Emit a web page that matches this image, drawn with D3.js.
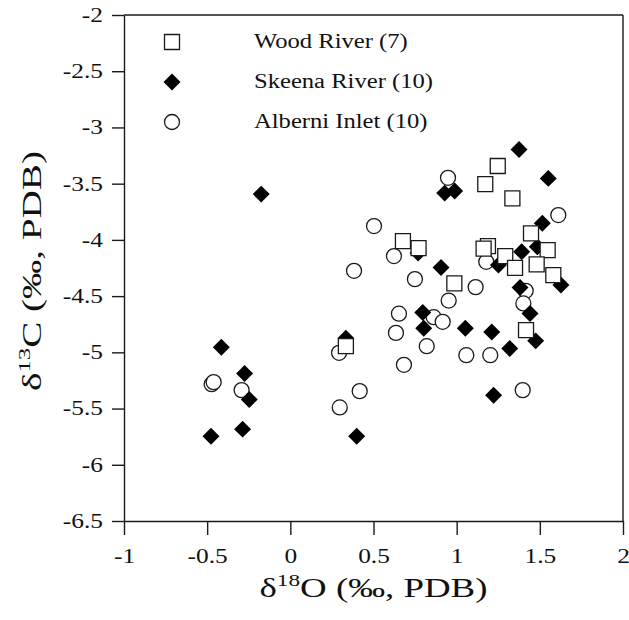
<!DOCTYPE html>
<html>
<head>
<meta charset="utf-8">
<script src="https://cdn.jsdelivr.net/npm/d3@7"></script>
<style>
body { margin: 0; background: #fff; }
svg text { font-family: "Liberation Serif", "Times New Roman", serif; fill: #111; }
</style>
</head>
<body>
<svg id="chart" width="629" height="620"></svg>
<script>
// values (d18O, d13C)
let woodX = [0.334, 0.677, 0.771, 0.986, 1.247, 1.172, 1.335, 1.447, 1.188, 1.162, 1.547, 1.292, 1.351, 1.481, 1.581, 1.417]
let woodY = [-4.945, -4.011, -4.073, -4.387, -3.343, -3.504, -3.631, -3.942, -4.055, -4.077, -4.091, -4.144, -4.248, -4.218, -4.313, -4.802]

let skeenaX = [-0.175, -0.415, -0.275, -0.247, -0.287, -0.477, 0.399, 0.334, 0.768, 0.906, 0.928, 0.988, 0.796, 0.802,
    1.375, 1.551, 1.515, 1.391, 1.485, 1.251, 1.381, 1.627, 1.441, 1.475, 1.052, 1.211, 1.319, 1.222]
let skeenaY = [-3.593, -4.954, -5.188, -5.419, -5.683, -5.746, -5.746, -4.874, -4.117, -4.245, -3.584, -3.566, -4.645, -4.785,
    -3.197, -3.453, -3.853, -4.106, -4.061, -4.224, -4.423, -4.402, -4.654, -4.898, -4.785, -4.820, -4.965, -5.381]

let albX = [0.948, 1.611, 0.503, 0.623, 0.383, 0.749, 1.178, 1.114, 0.952, 0.653, 0.862, 0.916, 1.415, 1.401, 0.635, 0.820,
    0.293, 0.683, 1.058, 1.202, 1.397, 0.417, 0.297, -0.473, -0.461, -0.293]
let albY = [-3.448, -3.779, -3.877, -4.144, -4.275, -4.349, -4.195, -4.420, -4.540, -4.656, -4.687, -4.729, -4.453, -4.565, -4.827, -4.945,
    -5.004, -5.111, -5.025, -5.025, -5.336, -5.345, -5.490, -5.283, -5.265, -5.336]

let xTicks = [-1, -0.5, 0, 0.5, 1, 1.5, 2]
let xTickLabels = ["-1", "-0.5", "0", "0.5", "1", "1.5", "2"]
let yTicks = [-2, -2.5, -3, -3.5, -4, -4.5, -5, -5.5, -6, -6.5]
let yTickLabels = ["-2", "-2.5", "-3", "-3.5", "-4", "-4.5", "-5", "-5.5", "-6", "-6.5"]

let seriesNames = ["Wood River (7)", "Skeena River (10)", "Alberni Inlet (10)"]

let x0 = 124, x1 = 623, y0 = 15, y1 = 521
let ink = "#1a1a1a"
let svg = d3.select("#chart")

// the scanned type is wider than Liberation Serif, so stretch it a little
function widen(sel, k) {
    sel.each(function() {
        let w = this.getComputedTextLength()
        d3.select(this).attr("textLength", w * k).attr("lengthAdjust", "spacingAndGlyphs")
    })
}

let x = d3.scaleLinear().domain([-1, 2]).range([x0, x1])
let y = d3.scaleLinear().domain([-6.5, -2]).range([y1, y0])

// X axis
let gx = svg.append("g")
    .attr("transform", "translate(0," + y1 + ")")
    .call(d3.axisBottom(x).tickValues(xTicks).tickSize(14).tickSizeOuter(0)
        .tickFormat((d, i) => xTickLabels[i]))
gx.selectAll("text").attr("y", 42).attr("dy", null).style("font-size", "20px")
widen(gx.selectAll("text"), 1.27)

// Y axis
let gy = svg.append("g")
    .attr("transform", "translate(" + x0 + ",0)")
    .call(d3.axisLeft(y).tickValues(yTicks).tickSize(12).tickSizeOuter(0)
        .tickFormat((d, i) => yTickLabels[i]))
gy.selectAll("text").attr("x", -21).style("font-size", "20px")
widen(gy.selectAll("text"), 1.27)

svg.selectAll(".domain, .tick line").attr("stroke", ink).attr("stroke-width", 1.4)

// top and right of the frame
svg.append("line").attr("x1", x0).attr("x2", x1).attr("y1", y0).attr("y2", y0)
    .attr("stroke", ink).attr("stroke-width", 1.4)
svg.append("line").attr("x1", x1).attr("x2", x1).attr("y1", y0).attr("y2", y1)
    .attr("stroke", ink).attr("stroke-width", 1.4)

// axis titles
let xt = svg.append("text").attr("x", (x0 + x1) / 2).attr("y", 597)
    .attr("text-anchor", "middle").style("font-size", "27px")
    .attr("textLength", 228).attr("lengthAdjust", "spacingAndGlyphs")
xt.append("tspan").text("\u03b4")
xt.append("tspan").attr("dy", -11).style("font-size", "17px").text("18")
xt.append("tspan").attr("dy", 11).text("O (\u2030, PDB)")

let yt = svg.append("text")
    .attr("transform", "translate(41,271)rotate(-90)")
    .attr("text-anchor", "middle").style("font-size", "27px")
    .attr("textLength", 240).attr("lengthAdjust", "spacingAndGlyphs")
yt.append("tspan").text("\u03b4")
yt.append("tspan").attr("dy", -11).style("font-size", "17px").text("13")
yt.append("tspan").attr("dy", 11).text("C (\u2030, PDB)")

// markers
let square = d3.symbol(d3.symbolSquare, 15 * 15)
let diamond = d3.symbol(d3.symbolSquare, 12 * 12)

let plot = svg.append("g")

plot.selectAll(".alb")
    .data(albX)
    .enter()
    .append("circle")
        .attr("cx", d => x(d))
        .attr("cy", (d, i) => y(albY[i]))
        .attr("r", 7.5)
        .attr("fill", "white")
        .attr("stroke", ink)
        .attr("stroke-width", 1.3)

plot.selectAll(".skeena")
    .data(skeenaX)
    .enter()
    .append("path")
        .attr("d", diamond)
        .attr("transform", (d, i) => "translate(" + x(d) + "," + y(skeenaY[i]) + ")rotate(45)")
        .attr("fill", "black")

plot.selectAll(".wood")
    .data(woodX)
    .enter()
    .append("path")
        .attr("d", square)
        .attr("transform", (d, i) => "translate(" + x(d) + "," + y(woodY[i]) + ")")
        .attr("fill", "white")
        .attr("stroke", ink)
        .attr("stroke-width", 1.3)

// legend
let legend = svg.append("g")
legend.append("path").attr("d", square).attr("transform", "translate(172,42)")
    .attr("fill", "white").attr("stroke", ink).attr("stroke-width", 1.3)
legend.append("path").attr("d", diamond).attr("transform", "translate(172,82)rotate(45)")
    .attr("fill", "black")
legend.append("circle").attr("cx", 172).attr("cy", 122).attr("r", 7.5)
    .attr("fill", "white").attr("stroke", ink).attr("stroke-width", 1.3)

let labels = legend.selectAll(".lbl")
    .data(seriesNames)
    .enter()
    .append("text")
        .attr("x", 254)
        .attr("y", (d, i) => 48 + i * 40)
        .style("font-size", "20px")
        .text(d => d)
widen(labels, 1.23)
</script>
</body>
</html>
